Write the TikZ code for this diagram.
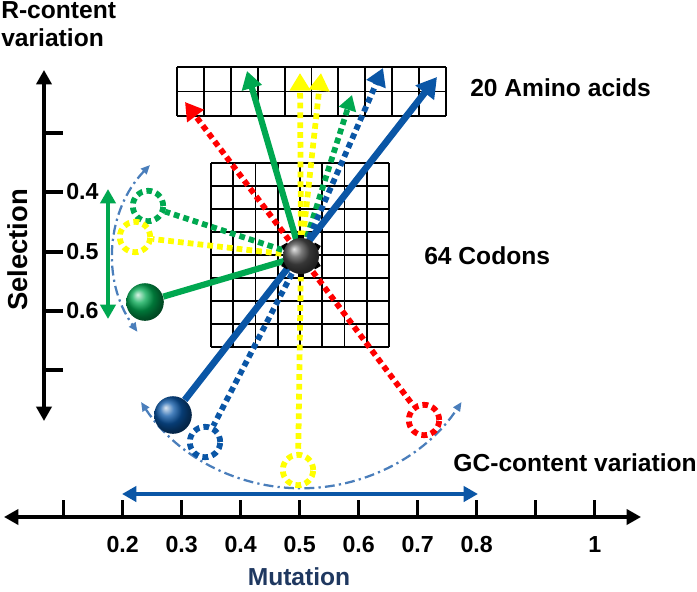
\documentclass[tikz,border=0pt]{standalone}
\usepackage{fontspec}
\setmainfont{Liberation Sans}
\usetikzlibrary{arrows.meta}
\definecolor{cgreen}{RGB}{0,168,80}
\definecolor{cyellow}{RGB}{255,255,0}
\definecolor{cred}{RGB}{255,0,0}
\definecolor{cblue}{RGB}{10,86,166}
\definecolor{arcblue}{RGB}{74,126,187}
\definecolor{navy}{RGB}{31,56,96}

\begin{document}
\begin{tikzpicture}[x=0.25mm, y=-0.25mm,
  every node/.style={font=\bfseries\fontsize{17.5}{20}\selectfont, inner sep=0},
  lab/.style={font=\bfseries\fontsize{16.5}{18}\selectfont},
  aatip/.style={-{Triangle[length=4.4mm,width=5mm]}},
  bitip/.style={{Triangle[length=3.6mm,width=3.8mm]}-{Triangle[length=3.6mm,width=3.8mm]}},
  dotline/.style={line width=4.1pt, dash pattern=on 4.1pt off 2.9pt},
  rgring/.style={circle, draw, dotline, minimum size=7.6mm},
  orb/.style={circle, shading=ball, minimum size=9.4mm},
  swing/.style={draw=arcblue, line width=1.6pt, dash pattern=on 7pt off 3pt on 1.6pt off 3pt,
    {Triangle[length=6.5pt,width=5.5pt]}-{Triangle[length=6.5pt,width=5.5pt]}}]
\useasboundingbox (0,0) rectangle (697,592);
% amino acid and codon tables
\foreach \i in {0,...,10} \draw[line width=1.4pt] (177+26.9*\i,67) -- (177+26.9*\i,116);
\foreach \j in {0,1,2} \draw[line width=1.4pt] (177,67+24.5*\j) -- (446,67+24.5*\j);
\foreach \i in {0,...,8} {
  \draw[line width=1.4pt] (211+22.25*\i,163) -- ++(0,184);
  \draw[line width=1.4pt] (211,163+23*\i) -- ++(178,0);
}
\node[anchor=west] (aalab) at (470,88) {20 Amino acids};
\node[anchor=west] (codlab) at (424,256) {64 Codons};
\node[anchor=north west, align=left] (rlab) at (1,1) {R-content\\variation};
\node[anchor=east] (gclab) at (697,463) {GC-content variation};
% selection axis
\coordinate (stop) at (44,70);
\coordinate (sbot) at (44,421);
\draw[line width=2.3pt, bitip] (sbot) -- (stop);
\foreach \y in {133,192,252,311,370} \draw[line width=2.3pt] (44,\y) -- (63,\y);
\foreach \y/\v in {192/0.4,252/0.5,311/0.6} \node[lab, anchor=west] at (66,\y) {\v};
\node[rotate=90, font=\bfseries\fontsize{19.5}{22}\selectfont] (sel) at (18,250) {Selection};
% mutation axis
\coordinate (mleft) at (4,517);
\coordinate (mright) at (641,517);
\draw[line width=2.3pt, bitip] (mleft) -- (mright);
\foreach \i in {1,...,10} \draw[line width=2.3pt] (4.7+59*\i,517) -- ++(0,-17);
\foreach \i/\v in {2/0.2,3/0.3,4/0.4,5/0.5,6/0.6,7/0.7,8/0.8,10/1} \node[lab] at (4.7+59*\i,545) {\v};
\node[text=navy] (mut) at (299,577) {Mutation};
% ranges
\coordinate (gcl) at (122,494);
\coordinate (gcr) at (478,494);
\draw[cblue, line width=2.8pt, bitip] (gcl) -- (gcr);
\coordinate (st) at (108,189);
\coordinate (sb) at (108,319);
\draw[cgreen, line width=2.8pt, bitip] (st) -- (sb);
\draw[swing] (150,165) arc[start angle=224, end angle=144.6, radius=131];
\draw[swing] (141,402) arc[start angle=146.6, end angle=33.4, radius=192];
% codons
\node[rgring, draw=cgreen] (gring) at (148,206) {};
\node[rgring, draw=cyellow] (yring) at (135,237) {};
\node[rgring, draw=cblue] (bring) at (205,442) {};
\node[rgring, draw=cred] (rring) at (424,420) {};
\node[rgring, draw=cyellow] (ydown) at (298,470) {};
\node[orb, ball color=cgreen] (gorb) at (145,302) {};
\node[orb, ball color=cblue] (borb) at (173,415) {};
\coordinate (cod) at (301,256);
% amino acids
\coordinate (aR) at (185,102);
\coordinate (aG) at (247,71);
\coordinate (aY) at (300,73);
\coordinate (aYb) at (321,73);
\coordinate (aGd) at (352,95);
\coordinate (aBd) at (383,68);
\coordinate (aB) at (437,77);
\draw[cred, dotline, aatip] (cod) -- (aR);
\draw[cred, dotline] (cod) -- (rring);
\draw[cyellow, dotline, aatip] (cod) -- (aY);
\draw[cyellow, dotline, aatip] (cod) -- (aYb);
\draw[cyellow, dotline] (cod) -- (ydown);
\draw[cyellow, dotline] (cod) -- (yring);
\draw[cgreen, dotline, -{Triangle[length=3.8mm,width=4.3mm]}] (cod) -- (aGd);
\draw[cgreen, dotline] (cod) -- (gring);
\draw[cblue, dotline, aatip] (cod) -- (aBd);
\draw[cblue, dotline] (cod) -- (bring);
\draw[cgreen, line width=4.4pt, aatip] (cod) -- (aG);
\draw[cgreen, line width=4.4pt] (cod) -- (gorb);
\draw[cblue, line width=4.8pt, -{Triangle[length=5mm,width=5.6mm]}] (borb) -- (aB);
\foreach \a in {30,90,150,210,270,330}
  \node[fill=black, minimum size=1.7mm, rotate=\a] at ([shift={(\a:17.5)}]cod) {};
\node[orb, ball color=black!70, minimum size=9mm] (codon) at (cod) {};
\end{tikzpicture}
\end{document}
